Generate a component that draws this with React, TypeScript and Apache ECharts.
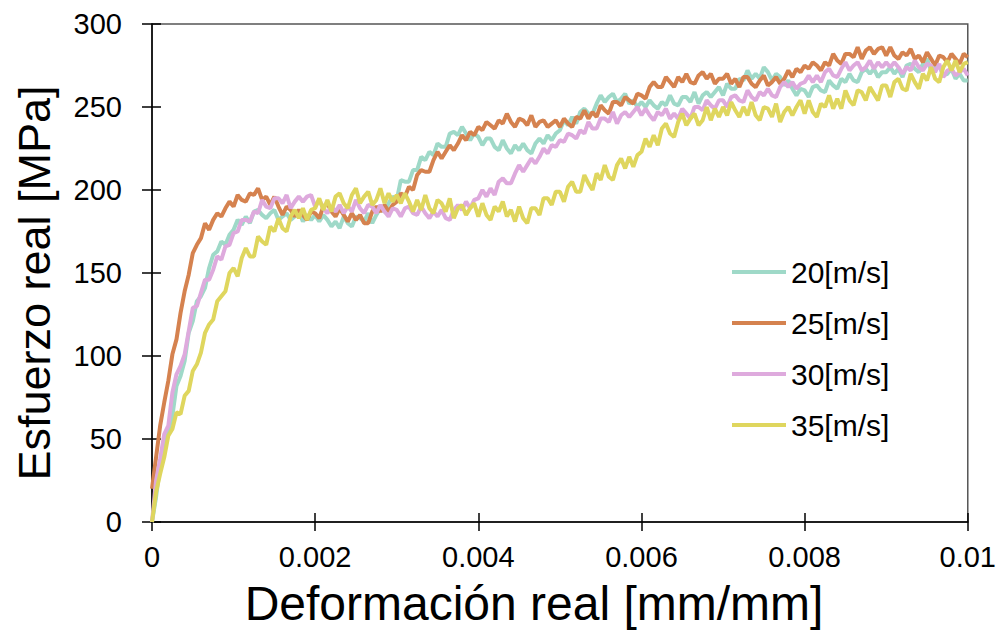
import React, { useEffect, useRef } from "react";
import * as echarts from "echarts";

// Sampling grid of strain [mm/mm]: one reading every 0.00005 from 0 to 0.01
const STRAIN_STEP = 0.00005;

const SERIES_NAMES = ["20[m/s]", "25[m/s]", "30[m/s]", "35[m/s]"];
const SERIES_COLORS = ["#9fd9c8", "#d5824f", "#deaadd", "#dfd65e"];

// Stress [MPa] at each strain sample
const S20 = [
  0, 15, 34, 48, 55, 64, 82, 88, 97, 114,
  121, 133, 136, 141, 153, 161, 163, 169, 167, 173,
  176, 182, 179, 184, 180, 187, 188, 185, 183, 186,
  188, 182, 184, 186, 182, 184, 187, 181, 185, 182,
  185, 181, 185, 182, 178, 181, 177, 184, 180, 178,
  184, 183, 181, 186, 180, 185, 189, 187, 192, 196,
  194, 206, 205, 205, 212, 212, 220, 218, 223, 221,
  228, 226, 226, 234, 235, 233, 238, 234, 230, 234,
  232, 227, 231, 231, 226, 224, 230, 225, 222, 227,
  224, 228, 224, 222, 228, 231, 228, 233, 230, 234,
  236, 242, 239, 244, 240, 247, 249, 246, 246, 252,
  257, 253, 256, 258, 253, 255, 258, 252, 254, 250,
  253, 250, 254, 251, 249, 253, 251, 257, 252, 251,
  256, 256, 253, 259, 252, 257, 259, 256, 259, 262,
  257, 264, 261, 261, 267, 266, 272, 267, 270, 267,
  274, 271, 266, 270, 268, 263, 266, 261, 257, 261,
  260, 256, 262, 263, 260, 259, 266, 263, 261, 267,
  265, 270, 266, 265, 271, 273, 270, 273, 268, 271,
  271, 274, 270, 273, 268, 275, 276, 273, 271, 276,
  279, 272, 274, 275, 269, 270, 273, 267, 270, 266,
  266,
];

const S25 = [
  20, 39, 58, 72, 85, 101, 110, 126, 139, 149,
  162, 167, 171, 180, 176, 182, 186, 184, 189, 193,
  190, 197, 194, 193, 198, 197, 201, 194, 196, 191,
  196, 190, 185, 190, 188, 184, 188, 185, 182, 187,
  186, 183, 190, 192, 187, 184, 189, 185, 181, 186,
  182, 185, 180, 180, 187, 190, 187, 191, 187, 191,
  193, 198, 196, 202, 200, 209, 212, 211, 211, 218,
  223, 219, 223, 227, 224, 228, 233, 230, 235, 233,
  238, 236, 241, 239, 237, 242, 240, 246, 241, 238,
  243, 242, 239, 245, 238, 241, 242, 238, 240, 242,
  238, 243, 240, 238, 244, 243, 248, 243, 247, 244,
  251, 248, 246, 253, 253, 251, 256, 254, 252, 258,
  257, 255, 262, 265, 262, 262, 268, 265, 262, 268,
  265, 270, 265, 264, 269, 271, 267, 270, 264, 267,
  267, 270, 264, 267, 262, 268, 268, 264, 262, 266,
  269, 263, 265, 268, 264, 267, 272, 268, 273, 271,
  275, 273, 277, 275, 272, 277, 275, 282, 278, 276,
  282, 282, 280, 286, 279, 284, 286, 282, 285, 286,
  281, 286, 281, 279, 283, 281, 285, 279, 281, 277,
  283, 279, 275, 281, 280, 277, 282, 279, 276, 282,
  280,
];

const S30 = [
  0, 25, 38, 53, 58, 78, 89, 94, 101, 115,
  129, 130, 138, 146, 146, 152, 160, 158, 166, 167,
  174, 175, 182, 182, 181, 187, 186, 194, 190, 189,
  195, 195, 192, 197, 189, 193, 196, 193, 196, 197,
  190, 194, 189, 186, 190, 187, 191, 186, 190, 187,
  194, 189, 186, 191, 190, 186, 191, 187, 184, 189,
  188, 184, 189, 190, 186, 185, 190, 186, 183, 187,
  184, 188, 183, 182, 188, 191, 188, 193, 189, 194,
  195, 200, 196, 201, 197, 205, 207, 204, 204, 210,
  215, 211, 215, 219, 216, 220, 225, 222, 227, 226,
  230, 229, 234, 233, 231, 236, 234, 241, 237, 237,
  243, 243, 241, 247, 240, 245, 247, 244, 247, 250,
  245, 249, 245, 242, 247, 245, 249, 243, 246, 243,
  249, 246, 243, 250, 250, 248, 254, 251, 249, 254,
  254, 250, 256, 257, 254, 253, 260, 256, 254, 259,
  257, 261, 257, 256, 262, 265, 262, 265, 261, 264,
  265, 269, 265, 269, 265, 271, 273, 269, 268, 273,
  277, 272, 275, 277, 272, 274, 278, 273, 277, 274,
  277, 274, 277, 274, 270, 274, 272, 278, 274, 272,
  276, 275, 271, 276, 268, 272, 273, 269, 271, 273,
  269,
];

const S35 = [
  0, 18, 29, 39, 52, 56, 66, 65, 76, 79,
  91, 95, 102, 114, 119, 122, 133, 136, 139, 150,
  153, 148, 159, 165, 160, 160, 172, 169, 167, 178,
  175, 183, 177, 175, 184, 188, 183, 189, 182, 188,
  189, 195, 188, 194, 187, 196, 198, 192, 189, 197,
  201, 192, 196, 199, 191, 194, 201, 192, 198, 193,
  197, 192, 198, 193, 187, 194, 188, 197, 189, 186,
  194, 192, 187, 195, 183, 189, 191, 185, 189, 192,
  184, 192, 185, 182, 190, 187, 193, 184, 188, 181,
  190, 183, 180, 189, 189, 185, 195, 195, 191, 199,
  199, 193, 202, 205, 199, 199, 209, 204, 200, 210,
  206, 215, 208, 206, 215, 219, 213, 220, 214, 221,
  223, 231, 226, 233, 227, 237, 240, 234, 232, 241,
  246, 239, 243, 246, 239, 242, 250, 242, 249, 244,
  250, 245, 253, 248, 244, 250, 245, 253, 245, 242,
  250, 249, 244, 252, 241, 247, 250, 245, 250, 254,
  246, 254, 247, 244, 252, 250, 257, 249, 255, 249,
  260, 254, 251, 260, 259, 254, 262, 258, 254, 263,
  263, 256, 265, 267, 261, 260, 270, 265, 261, 270,
  266, 274, 267, 265, 274, 278, 272, 278, 271, 276,
  277,
];

const SERIES_VALUES = [S20, S25, S30, S35];

const X_TICK_LABELS = ["0", "0.002", "0.004", "0.006", "0.008", "0.01"];
const Y_TICK_LABELS = ["0", "50", "100", "150", "200", "250", "300"];

const X_TITLE = "Deformación real [mm/mm]";
const Y_TITLE = "Esfuerzo real [MPa]";

const FONT = "Liberation Sans, Arial, Helvetica, sans-serif";

export default function App() {
  const ref = useRef<HTMLDivElement>(null);

  useEffect(() => {
    if (!ref.current) return;
    const chart = echarts.init(ref.current, undefined, { renderer: "svg" });

    const series = SERIES_VALUES.map((vals, k) => ({
      name: SERIES_NAMES[k],
      type: "line",
      xAxisIndex: 0,
      yAxisIndex: 0,
      data: vals.map((v, i) => [i * STRAIN_STEP, v]),
      showSymbol: false,
      symbol: "none",
      lineStyle: { width: 4, color: SERIES_COLORS[k] },
      itemStyle: { color: SERIES_COLORS[k] },
      color: SERIES_COLORS[k],
    }));

    const xBase = {
      type: "value",
      min: 0,
      max: 0.01,
      interval: 0.002,
      position: "bottom",
      splitLine: { show: false },
    };
    const yBase = {
      type: "value",
      min: 0,
      max: 300,
      interval: 50,
      position: "left",
      splitLine: { show: false },
    };

    chart.setOption({
      animation: false,
      backgroundColor: "#ffffff",
      grid: {
        left: 152,
        right: 31,
        top: 24,
        bottom: 110,
        show: true,
        borderColor: "#555555",
        borderWidth: 1.5,
        backgroundColor: "transparent",
      },
      legend: {
        orient: "vertical",
        left: 727,
        top: 252,
        itemWidth: 54,
        itemHeight: 4,
        itemGap: 21,
        icon: "rect",
        data: SERIES_NAMES,
        textStyle: {
          fontFamily: FONT,
          fontSize: 30,
          color: "#000000",
          lineHeight: 30,
          padding: [0, 0, 0, 0],
        },
      },
      xAxis: [
        {
          ...xBase,
          axisLine: { show: true, lineStyle: { color: "#000", width: 1.5 } },
          axisTick: { show: true, inside: false, length: 9, lineStyle: { color: "#000", width: 1.5 } },
          axisLabel: {
            show: true,
            margin: 20,
            fontFamily: FONT,
            fontSize: 29,
            color: "#000",
            formatter: (v: number) => X_TICK_LABELS[Math.round(v / 0.002)] ?? "",
          },
        },
        {
          ...xBase,
          axisLine: { show: false },
          axisTick: { show: true, inside: true, length: 9, lineStyle: { color: "#000", width: 1.5 } },
          axisLabel: { show: false },
        },
      ],
      yAxis: [
        {
          ...yBase,
          axisLine: { show: true, lineStyle: { color: "#000", width: 1.5 } },
          axisTick: { show: true, inside: false, length: 10, lineStyle: { color: "#000", width: 1.5 } },
          axisLabel: {
            show: true,
            margin: 30,
            fontFamily: FONT,
            fontSize: 29,
            color: "#000",
            formatter: (v: number) => Y_TICK_LABELS[Math.round(v / 50)] ?? "",
          },
        },
        {
          ...yBase,
          axisLine: { show: false },
          axisTick: { show: true, inside: true, length: 9, lineStyle: { color: "#000", width: 1.5 } },
          axisLabel: { show: false },
        },
      ],
      graphic: [
        {
          type: "text",
          x: 534,
          y: 603,
          style: {
            text: X_TITLE,
            fontFamily: FONT,
            fontSize: 48,
            fill: "#000",
            align: "center",
            verticalAlign: "middle",
          },
        },
        {
          type: "text",
          x: 34,
          y: 283,
          rotation: Math.PI / 2,
          style: {
            text: Y_TITLE,
            fontFamily: FONT,
            fontSize: 45,
            fill: "#000",
            align: "center",
            verticalAlign: "middle",
          },
        },
      ],
      series,
    });

    return () => chart.dispose();
  }, []);

  return <div ref={ref} style={{ width: 999, height: 632, position: "absolute", left: 0, top: 0 }} />;
}
